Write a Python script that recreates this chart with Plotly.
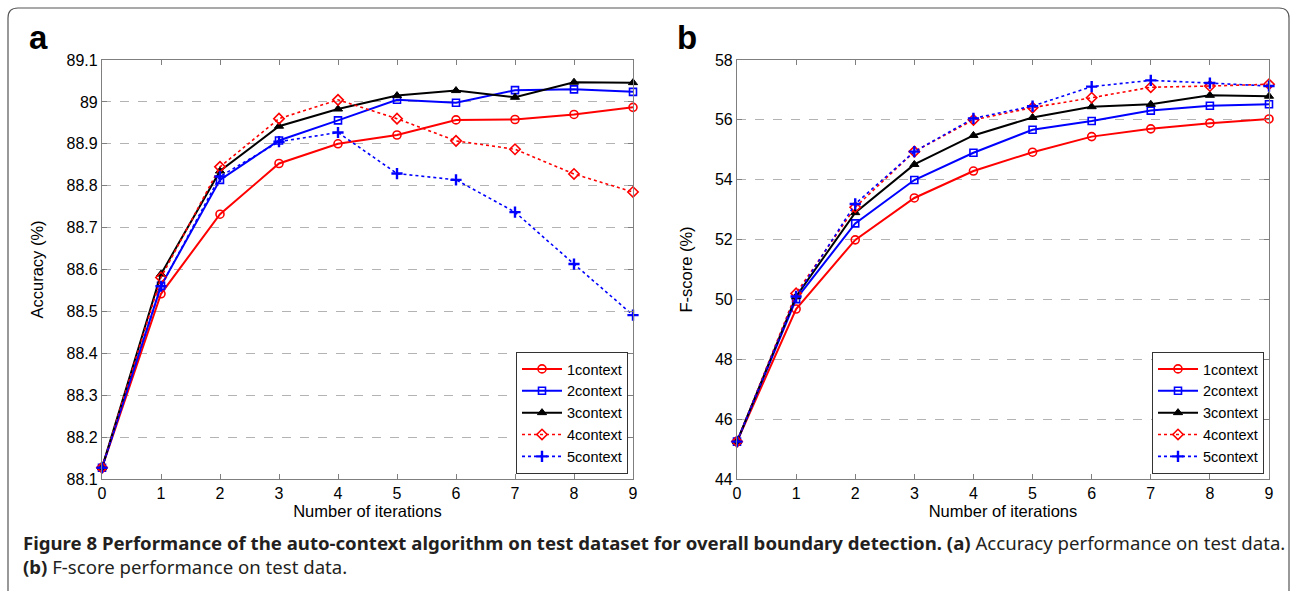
import plotly.graph_objects as go

W, H = 1292, 591

iterations = [0, 1, 2, 3, 4, 5, 6, 7, 8, 9]
series_names = ["1context", "2context", "3context", "4context", "5context"]

acc_1 = [88.127, 88.542, 88.732, 88.853, 88.900, 88.921, 88.957, 88.958, 88.970, 88.987]
acc_2 = [88.127, 88.561, 88.814, 88.908, 88.956, 89.005, 88.998, 89.028, 89.030, 89.024]
acc_3 = [88.127, 88.589, 88.835, 88.942, 88.983, 89.015, 89.027, 89.011, 89.047, 89.046]
acc_4 = [88.127, 88.581, 88.845, 88.960, 89.005, 88.960, 88.907, 88.887, 88.828, 88.785]
acc_5 = [88.127, 88.560, 88.822, 88.905, 88.927, 88.829, 88.814, 88.737, 88.613, 88.491]

f_1 = [45.25, 49.68, 51.99, 53.39, 54.29, 54.92, 55.44, 55.70, 55.89, 56.03]
f_2 = [45.25, 50.01, 52.54, 53.99, 54.90, 55.67, 55.96, 56.31, 56.47, 56.52]
f_3 = [45.25, 50.10, 52.90, 54.51, 55.48, 56.08, 56.44, 56.52, 56.82, 56.79]
f_4 = [45.25, 50.20, 53.08, 54.94, 56.00, 56.41, 56.74, 57.09, 57.13, 57.19]
f_5 = [45.25, 50.10, 53.19, 54.94, 56.05, 56.46, 57.11, 57.32, 57.23, 57.13]

acc_ticks = [88.1, 88.2, 88.3, 88.4, 88.5, 88.6, 88.7, 88.8, 88.9, 89.0, 89.1]
acc_ticktext = ["88.1", "88.2", "88.3", "88.4", "88.5", "88.6", "88.7", "88.8", "88.9", "89", "89.1"]
f_ticks = [44, 46, 48, 50, 52, 54, 56, 58]
f_ticktext = ["44", "46", "48", "50", "52", "54", "56", "58"]

styles = [
    dict(color="#ff0000", dash="solid", width=2, symbol="circle-open", size=8, mlw=1.6),
    dict(color="#0000ff", dash="solid", width=2, symbol="square-open", size=7, mlw=1.6),
    dict(color="#000000", dash="solid", width=2, symbol="triangle-up", size=8, mlw=1),
    dict(color="#ff0000", dash="dot", width=1.6, symbol="diamond-open", size=8, mlw=1.6),
    dict(color="#0000ff", dash="dot", width=1.6, symbol="cross-thin-open", size=8, mlw=2.4),
]

FONT = "Arial"
fig = go.Figure()

def add_series(data, xa, ya, legend):
    for name, ys, st in zip(series_names, data, styles):
        fig.add_trace(go.Scatter(
            x=iterations, y=ys, name=name, mode="lines+markers",
            xaxis=xa, yaxis=ya, legend=legend, cliponaxis=False,
            line=dict(color=st["color"], dash=st["dash"], width=st["width"]),
            marker=dict(symbol=st["symbol"], size=st["size"], color=st["color"],
                        line=dict(color=st["color"], width=st["mlw"])),
        ))

add_series([acc_1, acc_2, acc_3, acc_4, acc_5], "x", "y", "legend")
add_series([f_1, f_2, f_3, f_4, f_5], "x2", "y2", "legend2")

def px_x(p):
    return p / W

def px_y(p):
    return 1 - p / H

axis_common = dict(
    showline=True, linecolor="#7f7f7f", linewidth=1.2, mirror="ticks",
    ticks="inside", ticklen=5, tickcolor="#7f7f7f",
    tickfont=dict(family=FONT, size=16, color="#000"),
    zeroline=False, automargin=False,
)

fig.update_layout(
    width=W, height=H,
    margin=dict(l=0, r=0, t=0, b=0, autoexpand=False),
    paper_bgcolor="white", plot_bgcolor="white",
    font=dict(family=FONT, color="#000"),
    xaxis=dict(domain=[px_x(102), px_x(633)], range=[0, 9], tickvals=iterations,
               showgrid=False, anchor="y",
               title=dict(text="Number of iterations", font=dict(family=FONT, size=16.5), standoff=3),
               **axis_common),
    yaxis=dict(domain=[px_y(479), px_y(60)], range=[88.1, 89.1], tickvals=acc_ticks,
               ticktext=acc_ticktext, anchor="x",
               showgrid=True, gridcolor="#b3b3b3", griddash="dash", gridwidth=1,
               title=dict(text="Accuracy (%)", font=dict(family=FONT, size=16.5), standoff=18),
               **axis_common),
    xaxis2=dict(domain=[px_x(737), px_x(1269)], range=[0, 9], tickvals=iterations,
                showgrid=False, anchor="y2",
                title=dict(text="Number of iterations", font=dict(family=FONT, size=16.5), standoff=3),
                **axis_common),
    yaxis2=dict(domain=[px_y(479), px_y(60)], range=[44, 58], tickvals=f_ticks,
                ticktext=f_ticktext, anchor="x2",
                showgrid=True, gridcolor="#b3b3b3", griddash="dash", gridwidth=1,
                title=dict(text="F-score (%)", font=dict(family=FONT, size=16.5), standoff=18),
                **axis_common),
    legend=dict(x=px_x(628), y=px_y(474), xanchor="right", yanchor="bottom",
                bordercolor="#333", borderwidth=1, bgcolor="white",
                font=dict(family=FONT, size=14.5), tracegroupgap=0, itemwidth=40),
    legend2=dict(x=px_x(1264), y=px_y(474), xanchor="right", yanchor="bottom",
                 bordercolor="#333", borderwidth=1, bgcolor="white",
                 font=dict(family=FONT, size=14.5), tracegroupgap=0, itemwidth=40),
    showlegend=True,
)

# outer rounded frame
r = 10
x0, y0, x1, y1 = 8, 8, 1289, 620
path = (f"M {px_x(x0)} {px_y(y1)} L {px_x(x0)} {px_y(y0 + r)} "
        f"Q {px_x(x0)} {px_y(y0)} {px_x(x0 + r)} {px_y(y0)} "
        f"L {px_x(x1 - r)} {px_y(y0)} Q {px_x(x1)} {px_y(y0)} {px_x(x1)} {px_y(y0 + r)} "
        f"L {px_x(x1)} {px_y(y1)}")
fig.add_shape(type="path", path=path, xref="paper", yref="paper",
              line=dict(color="#555", width=1.2))

fig.add_annotation(text="<b>a</b>", x=px_x(27), y=px_y(37), xref="paper", yref="paper",
                   xanchor="left", yanchor="middle", showarrow=False,
                   font=dict(family=FONT, size=33, color="#000"))
fig.add_annotation(text="<b>b</b>", x=px_x(675), y=px_y(37), xref="paper", yref="paper",
                   xanchor="left", yanchor="middle", showarrow=False,
                   font=dict(family=FONT, size=33, color="#000"))

CAP = "Noto Sans"
fig.add_annotation(
    text="<b>Figure 8 Performance of the auto-context algorithm on test dataset for overall boundary detection. (a)</b> Accuracy performance on test data.",
    x=px_x(21), y=px_y(542), xref="paper", yref="paper", xanchor="left", yanchor="middle",
    showarrow=False, font=dict(family=CAP, size=18.6, color="#231f20"))
fig.add_annotation(
    text="<b>(b)</b> F-score performance on test data.",
    x=px_x(21), y=px_y(566), xref="paper", yref="paper", xanchor="left", yanchor="middle",
    showarrow=False, font=dict(family=CAP, size=18.6, color="#231f20"))

fig.write_html("out.html")
